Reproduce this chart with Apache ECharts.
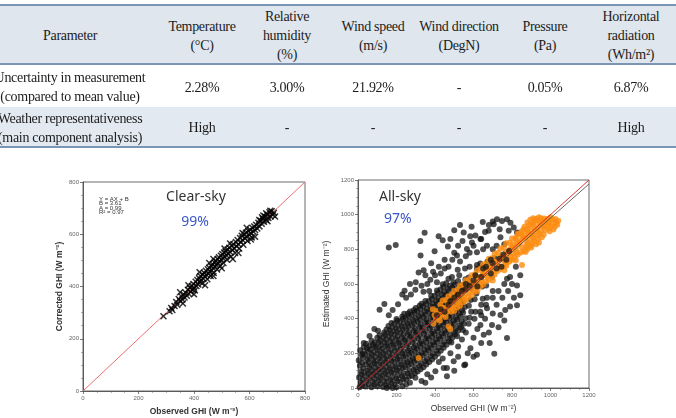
<!DOCTYPE html>
<html>
<head>
<meta charset="utf-8">
<script src="https://cdn.jsdelivr.net/npm/echarts@6/dist/echarts.min.js"></script>
<style>
    html, body { margin: 0; padding: 0; background: #fff; width: 676px; height: 418px; overflow: hidden; }
    #chart { position: absolute; left: 0; top: 0; width: 676px; height: 418px; }
    #table { position: absolute; left: 0; top: 0; width: 676px; height: 150px; font-family: "Liberation Serif", "DejaVu Serif", serif; color: #1c1c1c; font-size: 14px; }
    .t { position: absolute; transform: translate(-50%, -50%); white-space: nowrap; line-height: 1; letter-spacing: -0.3px; }
    .band { position: absolute; left: 0; width: 676px; }
</style>
</head>
<body>
<div id="chart"></div>
<div id="table"></div>
<script>
// table content
const headerCells = [
    ['Parameter'],
    ['Temperature', '(°C)'],
    ['Relative', 'humidity', '(%)'],
    ['Wind speed', '(m/s)'],
    ['Wind direction', '(DegN)'],
    ['Pressure', '(Pa)'],
    ['Horizontal', 'radiation', '(Wh/m²)']
];
const rowLabels = [
    ['Uncertainty in measurement', '(compared to mean value)'],
    ['Weather representativeness', '(main component analysis)']
];
const uncertaintyRow = ['2.28%', '3.00%', '21.92%', '-', '0.05%', '6.87%'];
const representRow = ['High', '-', '-', '-', '-', 'High'];

// left panel: clear-sky, observed vs corrected GHI
const clearSkyPoints = [
    [290,286],[312,305],[318,318],[322,310],[330,325],[336,341],[340,330],[345,352],[350,345],[355,362],
    [358,350],[362,370],[366,358],[370,376],[374,365],[378,388],[381,372],[385,395],[388,380],[392,402],
    [395,388],[398,410],[400,395],[403,385],[406,418],[409,402],[412,425],[415,408],[418,432],[420,418],
    [423,440],[426,425],[429,412],[432,445],[434,430],[437,452],[440,438],[443,460],[445,445],[448,428],
    [450,466],[452,450],[455,472],[457,458],[460,440],[462,478],[464,462],[467,485],[469,470],[471,452],
    [474,492],[476,476],[478,498],[480,482],[483,465],[485,505],[487,490],[490,512],[492,496],[494,478],
    [497,518],[499,502],[502,524],[504,508],[506,490],[509,530],[511,514],[514,536],[516,520],[519,502],
    [521,542],[524,526],[527,548],[530,532],[533,514],[536,556],[539,540],[542,562],[545,546],[548,528],
    [551,570],[554,554],[557,578],[560,562],[563,545],[566,586],[569,570],[572,594],[575,578],[578,560],
    [581,600],[584,585],[587,606],[590,590],[593,574],[596,612],[599,598],[602,618],[605,604],[608,588],
    [611,624],[614,610],[617,630],[620,616],[624,636],[628,622],[632,644],[636,630],[640,652],[644,640],
    [648,660],[652,648],[656,668],[660,655],[664,676],[668,662],[672,684],[676,668],[680,688],[684,674],
    [688,682],[692,668],[660,680],[650,672],[675,690],[645,665],
    [420,455],[440,405],[470,505],[500,470],[530,565],[560,528],[590,625],[620,590],[380,405],[400,370],
    [350,378],[360,335],[470,440],[510,545],[540,505],[455,490],[575,605],[605,580],[635,655],[665,650]
];
const clearFitLine = [[0, 0], [800, 800]];

// right panel: all-sky, observed vs estimated GHI
const allSkyCore = [
    [8,5],[15,32],[6,62],[18,95],[10,128],[4,160],[20,190],[12,218],[25,200],
    [38,8],[45,40],[35,70],[48,100],[40,135],[50,165],[36,195],[46,228],[42,255],
    [70,5],[78,35],[66,68],[75,98],[68,130],[80,160],[72,192],[65,222],[78,250],[70,272],
    [100,10],[108,42],[96,72],[105,105],[98,138],[110,170],[102,200],[95,232],[108,262],[100,290],
    [130,6],[138,38],[126,70],[135,102],[128,135],[140,168],[132,198],[125,230],[138,262],[130,292],[136,320],
    [160,12],[168,45],[156,78],[165,110],[158,142],[170,175],[162,205],[155,238],[168,270],[160,300],[166,332],[158,358],
    [190,20],[198,55],[186,88],[195,120],[188,152],[200,185],[192,215],[185,248],[198,280],[190,310],[196,342],[188,372],[200,398],
    [220,35],[228,68],[216,100],[225,132],[218,165],[230,198],[222,228],[215,260],[228,292],[220,322],[226,355],[218,385],[230,412],
    [250,50],[258,85],[246,118],[255,150],[248,182],[260,215],[252,245],[245,278],[258,310],[250,340],[256,372],[248,402],[260,430],
    [280,70],[288,105],[276,138],[285,170],[278,202],[290,235],[282,265],[275,298],[288,330],[280,360],[286,392],[278,422],[290,448],
    [310,95],[318,128],[306,160],[315,192],[308,225],[320,258],[312,288],[305,320],[318,352],[310,382],[316,414],[308,444],[320,474],
    [340,120],[348,155],[336,188],[345,220],[338,252],[350,285],[342,315],[335,348],[348,380],[340,410],[346,442],[338,472],[350,502],
    [370,150],[378,185],[366,218],[375,250],[368,282],[380,315],[372,345],[365,378],[378,410],[370,440],[376,472],[368,502],[380,532],
    [400,180],[408,215],[396,248],[405,280],[398,312],[410,345],[402,375],[395,408],[408,440],[400,470],[406,502],[398,532],[410,562],
    [430,215],[438,250],[426,282],[435,315],[428,348],[440,380],[432,410],[425,442],[438,475],[430,505],[436,538],[428,568],[440,598],
    [460,250],[468,285],[456,318],[465,350],[458,382],[470,415],[462,445],[455,478],[468,510],[460,540],[466,572],[458,605],[470,630],
    [490,290],[498,322],[486,355],[495,388],[488,420],[500,452],[492,482],[485,515],[498,548],[490,578],[496,610],[488,640],
    [520,330],[528,362],[516,395],[525,428],[518,460],[530,492],[522,522],[515,555],[528,588],[520,618],[526,650],[518,682],
    [550,370],[558,402],[546,435],[555,468],[548,500],[552,562],[545,595],[558,628],[556,690],
    [580,405],[588,440],[576,475],[585,508],[590,572],[582,605],[575,638],[580,700],
    [610,440],[606,512],[615,545],[620,612],[612,645],[618,710],
    [640,480],[648,515],[645,585],[650,652],[635,718],
    [670,520],[666,592],[680,695],[672,728],
    [700,560],[696,640],[710,748],
    [485,262],[515,298],[545,335],[575,370],[605,400],[635,440],[665,480],[700,520]
];
const allSkyCoreFill = [
    [22,18],[25,48],[20,80],[28,112],[22,145],[26,175],[30,235],
    [55,22],[58,55],[52,85],[60,118],[55,150],[58,180],[52,212],[60,242],
    [85,20],[88,52],[82,84],[90,115],[85,146],[88,178],[82,208],[90,238],[86,262],
    [115,25],[118,58],[112,88],[120,120],[115,152],[118,185],[112,215],[120,246],[116,276],[112,305],
    [145,22],[148,55],[142,86],[150,118],[145,150],[148,182],[142,214],[150,246],[146,278],[142,308],[148,338],
    [175,30],[178,62],[172,94],[180,126],[175,158],[178,190],[172,222],[180,254],[176,286],[172,316],[178,348],[174,375],
    [205,40],[208,72],[202,104],[210,136],[205,168],[208,200],[202,232],[210,264],[206,296],[202,326],[208,358],[204,388],
    [235,52],[238,84],[232,116],[240,148],[235,180],[238,212],[232,244],[240,276],[236,308],[232,338],[238,370],[234,400],[240,428],
    [265,65],[268,98],[262,130],[270,162],[265,194],[268,226],[262,258],[270,290],[266,322],[262,352],[268,384],[264,414],[270,442],
    [295,85],[298,118],[292,150],[300,182],[295,214],[298,246],[292,278],[300,310],[296,342],[292,372],[298,404],[294,434],[300,462],
    [325,108],[328,140],[322,172],[330,204],[325,236],[328,268],[322,300],[330,332],[326,364],[322,394],[328,426],[324,456],[330,486],
    [355,135],[358,168],[352,200],[360,232],[355,264],[358,296],[352,328],[360,360],[356,392],[352,422],[358,454],[354,484],
    [385,165],[388,198],[382,230],[390,262],[385,294],[388,326],[382,358],[390,390],[386,422],[382,452],[388,484],[384,514],
    [415,198],[418,232],[412,264],[420,296],[415,328],[418,360],[412,392],[420,424],[416,456],[412,486],[418,518],[414,548],
    [445,232],[448,266],[442,298],[450,330],[445,362],[448,394],[442,426],[450,458],[446,490],[442,520],[448,552],[444,582],
    [475,270],[478,304],[472,336],[480,368],[475,400],[478,432],[472,464],[480,496],[476,528],[472,558],[478,590],
    [505,310],[508,342],[502,374],[510,406],[505,438],[508,470],[502,502],[510,534],[506,566],[502,596],
    [535,350],[538,384],[532,416],[540,448],[535,480],[538,512],[532,544],[540,576]
];
const allSkyUpper = [
    [137,485],[112,452],[208,483],[242,561],[298,567],[104,331],[60,300],[30,260],[85,340],[160,420],
    [180,450],[250,520],[275,540],[315,667],[341,680],[376,624],[325,764],[324,848],[346,895],[160,810],
    [196,825],[419,876],[440,853],[398,789],[467,816],[500,910],[543,848],[583,876],[648,958],[360,600],
    [400,650],[420,700],[380,720],[450,740],[470,700],[430,660],[500,780],[520,820],[560,760],[600,820],
    [610,880],[640,860],[660,900],[680,940],[700,960],[722,973],[748,964],[774,973],[792,954],[809,926],
    [783,907],[826,897],[705,945],[679,907],[736,916],[618,783],[636,859],[592,840],[670,821],[549,897],
    [566,802],[514,764],[618,688],[300,610],[330,590],[270,600],[230,540],[350,650],[480,860],[530,940],
    [590,930],[740,870],[760,830],[720,820],[700,800],[650,800],[580,780],[530,730],[490,740],[450,690],
    [410,610],[390,670],[370,560],[340,555]
];
const allSkyLower = [
    [552,131],[708,198],[774,288],[684,259],[653,307],[618,192],[462,116],[497,154],[584,230],[636,364],
    [696,364],[740,421],[765,450],[826,478],[843,535],[826,592],[843,650],[774,630],[402,97],[445,116],
    [557,135],[462,68],[298,59],[330,40],[360,80],[380,60],[420,150],[480,200],[520,240],[540,280],
    [560,320],[600,290],[620,340],[660,400],[700,430],[720,480],[750,520],[780,560],[800,600],[810,520],
    [790,470],[760,390],[730,350],[680,320],[640,260],[600,180],[570,200],[520,180],[500,100],[440,170],
    [350,30],[250,20],[270,30],[230,10],[200,5],[180,0],[150,0],[640,420],[670,460],[730,560],
    [760,600],[790,640],[820,700]
];
// black points lying on top of the orange band
const allSkyOverlay = [
    [640,640],[665,700],[690,660],[700,720],[720,690],[735,745],[755,770],[770,740],[690,740],[650,690],
    [600,620],[580,590],[560,600],[540,560],[520,540],[500,520],[610,650],[470,480],[450,440],[430,455],
    [410,420],[480,500],[560,570],[620,585],[745,700],[785,790]
];
const allSkyOrange = [
    [392,372],[405,395],[398,420],[410,445],[388,455],
    [425,390],[432,418],[420,440],[438,462],[428,480],[440,505],
    [455,410],[462,438],[450,462],[468,485],[458,508],[470,530],
    [485,440],[492,468],[480,492],[498,515],[488,540],[500,560],
    [515,465],[522,495],[510,520],[528,545],[518,568],[530,590],
    [545,495],[552,522],[540,548],[558,572],[548,598],[560,622],
    [575,525],[582,552],[570,578],[588,602],[578,628],[590,650],
    [605,555],[612,582],[600,608],[618,632],[608,658],[620,680],
    [635,585],[642,612],[630,640],[648,664],[638,690],[650,712],
    [665,615],[672,642],[660,670],[678,695],[668,720],[680,745],
    [695,645],[702,672],[690,700],[708,725],[698,750],[710,775],
    [725,675],[732,702],[720,730],[738,755],[728,780],[740,805],
    [755,700],[762,730],[750,758],[768,785],[758,810],[770,835],
    [785,728],[792,758],[780,786],[798,812],[788,838],[800,862],
    [815,755],[822,785],[810,812],[828,840],[818,865],[830,890],
    [845,782],[852,812],[840,840],[858,866],[848,892],[860,915],[852,709],
    [875,810],[882,840],[870,868],[888,892],[878,918],[890,940],
    [905,835],[912,865],[900,892],[918,918],[908,945],[920,965],
    [935,860],[942,890],[930,915],[948,940],[938,962],[950,980],
    [965,885],[972,912],[960,938],[978,958],[968,978],
    [995,905],[1002,932],[990,955],[1008,972],[1000,985],
    [1022,930],[1030,955],[1040,965],[1035,942],[1025,975],
    [479,340],[315,173],[470,355],
    [760,745],[775,770],[790,800],[805,830],[820,860],[835,885],[850,905],[865,930],[880,955],[895,970],[910,980],
    [770,720],[790,740],[805,775],[820,805],[835,830],[850,855],[865,880],[880,905],[895,925],[910,950],[925,975],[940,985],
    [860,790],[875,830],[890,860],[905,880],[920,905],[935,930],[950,955],[965,965],[985,975],
    [880,800],[895,820],[915,850],[930,880],[950,905],[965,930],[985,940],[1010,950],[1015,915],[990,920],[955,870],[925,830],
    [600,580],[620,600],[640,625],[660,650],[680,675],[700,690],[720,715],[740,740],[560,545],[540,520],
    [520,505],[500,480],[480,465],[460,445],[440,430],[420,410],
    [620,560],[650,595],[680,625],[710,655],[740,685],[770,705],[800,740],[830,770],[590,535],[560,505],
    [530,475],[500,445],[700,620],[760,680],[820,735],[870,785],[900,810],[940,840]
];
const oneToOneLine = [[0, 0], [1200, 1200]];
const allSkyFitLine = [[0, 0], [1200, 1177]];

// ---- table (html) ----
const colX = [70, 202, 287, 373, 459, 545, 631];
const tableEl = document.getElementById('table');
function band(top, height, color) {
    const d = document.createElement('div');
    d.className = 'band';
    d.style.top = top + 'px';
    d.style.height = height + 'px';
    d.style.background = color;
    tableEl.appendChild(d);
}
function cell(text, x, y) {
    const d = document.createElement('div');
    d.className = 't';
    d.style.left = x + 'px';
    d.style.top = y + 'px';
    d.textContent = text;
    tableEl.appendChild(d);
}
band(6, 57, '#dfe6ee');
band(107, 39, '#e2e9f1');
band(4, 2, '#7b95b5');
band(63, 2, '#7b95b5');
band(146, 2, '#7b95b5');

headerCells.forEach((lines, i) => {
    const start = 36 - (lines.length - 1) * 19 / 2;
    lines.forEach((s, k) => cell(s, colX[i], start + k * 19));
});
rowLabels.forEach((lines, r) => {
    const mid = r === 0 ? 87.5 : 128;
    cell(lines[0], colX[0], mid - 9.5);
    cell(lines[1], colX[0], mid + 9.5);
});
uncertaintyRow.forEach((v, i) => cell(v, colX[i + 1], 87.5));
representRow.forEach((v, i) => cell(v, colX[i + 1], 128));

// ---- charts ----
const xMark = 'path://M0,1.5L1.5,0L5,3.5L8.5,0L10,1.5L6.5,5L10,8.5L8.5,10L5,6.5L1.5,10L0,8.5L3.5,5Z';

function makeAxis(gridIndex, max, name, bold, gap) {
    return {
        type: 'value',
        gridIndex: gridIndex,
        min: 0,
        max: max,
        interval: 200,
        name: name,
        nameLocation: 'middle',
        nameGap: gap,
        nameTextStyle: { fontSize: 8.5, color: '#333', fontWeight: bold ? 'bold' : 'normal', fontFamily: 'Liberation Sans' },
        axisLine: { show: true, lineStyle: { color: '#444', width: 0.8 } },
        axisTick: { show: true, inside: false, length: 3, lineStyle: { color: '#444', width: 0.7 } },
        minorTick: { show: true, splitNumber: 4, length: 1.8, lineStyle: { color: '#666', width: 0.6 } },
        axisLabel: { fontSize: 6, color: '#666', margin: 4, fontFamily: 'Liberation Sans', formatter: v => String(v) },
        splitLine: { show: false }
    };
}

const chart = echarts.init(document.getElementById('chart'), null, { renderer: 'canvas' });
const smallFont = '6px "Liberation Sans"';
const blackDot = { color: '#111', opacity: 0.74 };
const option = {
    animation: false,
    backgroundColor: '#fff',
    grid: [
        { left: 83, top: 182, width: 222, height: 209, show: true, borderColor: '#444', borderWidth: 0.8 },
        { left: 358, top: 180, width: 231, height: 210, show: true, borderColor: '#444', borderWidth: 0.8 }
    ],
    xAxis: [
        makeAxis(0, 800, 'Observed GHI (W m⁻²)', true, 16),
        makeAxis(1, 1200, 'Observed GHI (W m⁻²)', false, 16)
    ],
    yAxis: [
        makeAxis(0, 800, 'Corrected GHI (W m⁻²)', true, 19),
        makeAxis(1, 1200, 'Estimated GHI (W m⁻²)', false, 27)
    ],
    graphic: [
        { type: 'text', x: 99, y: 199, style: { text: 'Y = AX + B', font: smallFont, fill: '#333', textVerticalAlign: 'middle', verticalAlign: 'middle' } },
        { type: 'text', x: 99, y: 203.5, style: { text: 'B = 3.61', font: smallFont, fill: '#333', textVerticalAlign: 'middle', verticalAlign: 'middle' } },
        { type: 'text', x: 99, y: 208, style: { text: 'A = 0.99', font: smallFont, fill: '#333', textVerticalAlign: 'middle', verticalAlign: 'middle' } },
        { type: 'text', x: 99, y: 212.5, style: { text: 'R² = 0.97', font: smallFont, fill: '#333', textVerticalAlign: 'middle', verticalAlign: 'middle' } },
        { type: 'text', x: 196, y: 197, style: { text: 'Clear-sky', font: '14px "Noto Sans"', fill: '#333', textAlign: 'center', align: 'center', textVerticalAlign: 'middle', verticalAlign: 'middle' } },
        { type: 'text', x: 195, y: 222, style: { text: '99%', font: '14px "Noto Sans"', fill: '#3a55c8', textAlign: 'center', align: 'center', textVerticalAlign: 'middle', verticalAlign: 'middle' } },
        { type: 'text', x: 379, y: 197, style: { text: 'All-sky', font: '14px "Noto Sans"', fill: '#333', textVerticalAlign: 'middle', verticalAlign: 'middle' } },
        { type: 'text', x: 384, y: 219, style: { text: '97%', font: '14px "Noto Sans"', fill: '#3a55c8', textVerticalAlign: 'middle', verticalAlign: 'middle' } }
    ],
    series: [
        {
            type: 'line', xAxisIndex: 0, yAxisIndex: 0, data: clearFitLine, symbol: 'none', z: 1,
            lineStyle: { color: '#ec6f73', width: 1 }
        },
        {
            type: 'scatter', xAxisIndex: 0, yAxisIndex: 0, data: clearSkyPoints, symbol: xMark, symbolSize: 7, z: 2,
            itemStyle: { color: '#000' }
        },
        {
            type: 'scatter', xAxisIndex: 1, yAxisIndex: 1, data: allSkyCore.concat(allSkyCoreFill, allSkyUpper, allSkyLower), symbolSize: 6, z: 2,
            itemStyle: blackDot
        },
        {
            type: 'scatter', xAxisIndex: 1, yAxisIndex: 1, data: allSkyOrange, symbolSize: 6, z: 3,
            itemStyle: { color: '#fb8c10' }
        },
        {
            type: 'scatter', xAxisIndex: 1, yAxisIndex: 1, data: allSkyOverlay, symbolSize: 6, z: 4,
            itemStyle: blackDot
        },
        {
            type: 'line', xAxisIndex: 1, yAxisIndex: 1, data: allSkyFitLine, symbol: 'none', z: 5,
            lineStyle: { color: '#444', width: 0.8 }
        },
        {
            type: 'line', xAxisIndex: 1, yAxisIndex: 1, data: oneToOneLine, symbol: 'none', z: 6,
            lineStyle: { color: '#d42424', width: 0.9 }
        }
    ]
};
chart.setOption(option);
</script>
</body>
</html>
